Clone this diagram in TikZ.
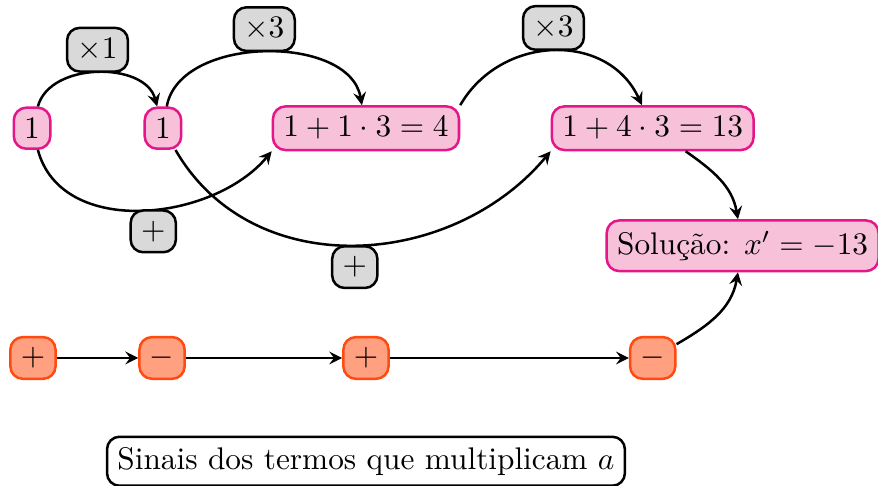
\documentclass[tikz,border=0pt]{standalone}
\usepackage{amsmath}
\definecolor{rosaborda}{HTML}{E6168A}
\definecolor{rosafundo}{HTML}{F6C1D9}
\definecolor{laranjaborda}{HTML}{FF4A10}
\definecolor{laranjafundo}{HTML}{FFA080}
\begin{document}
\begin{tikzpicture}[>=stealth,
	termo/.style={draw=rosaborda,fill=rosafundo,thick,rounded corners=4pt},
	sinal/.style={draw=laranjaborda,fill=laranjafundo,thick,rounded corners=4pt},
	operacao/.style={draw=black,fill=gray!30,thick,rounded corners=4pt},
	seta/.style={thick,->}]
	\useasboundingbox (0,0) rectangle (9.86,-5.447);
	% linha dos termos
	\node[termo] (um) at (0.36,-1.44) {$1$};
	\node[termo] (dois) at (1.83,-1.44) {$1$};
	\node[termo] (tres) at (4.11,-1.44) {$1+1\cdot 3=4$};
	\node[termo] (quatro) at (7.33,-1.44) {$1+4\cdot 3=13$};
	\node[termo] (solucao) at (8.34,-2.76) {Solução: $x'=-13$};
	% linha dos sinais
	\node[sinal] (s1) at (0.37,-4.02) {$+$};
	\node[sinal] (s2) at (1.82,-4.02) {$-$};
	\node[sinal] (s3) at (4.11,-4.02) {$+$};
	\node[sinal] (s4) at (7.33,-4.02) {$-$};
	\node[draw,thick,rounded corners=4pt] (legenda) at (4.11,-5.18) {Sinais dos termos que multiplicam $a$};

	\draw [seta] (um) to [out=75,in=105] node[midway,above,operacao] (op1) {$\times 1$} (dois);
	\draw [seta] (dois) to [out=80,in=100,looseness=0.95] node[midway,above,operacao] (op2) {$\times 3$} (tres);
	\draw [seta] (tres.north east) to [out=60,in=115,looseness=1.15] node[midway,above,operacao] (op3) {$\times 3$} (quatro);
	\draw [seta] (um) to [out=-75,in=-130] node[pos=0.54,below,operacao] (op4) {$+$} (tres.south west);
	\draw [seta] (dois) to [out=-60,in=-130,looseness=1.05] node[midway,below,operacao] (op5) {$+$} (quatro.south west);
	\draw [seta] (quatro) to [out=-35,in=100] (solucao);

	\draw [seta] (s1) -- (s2);
	\draw [seta] (s2) -- (s3);
	\draw [seta] (s3) -- (s4);
	\draw [seta] (s4) to [out=30,in=-100] (solucao);
\end{tikzpicture}
\end{document}
